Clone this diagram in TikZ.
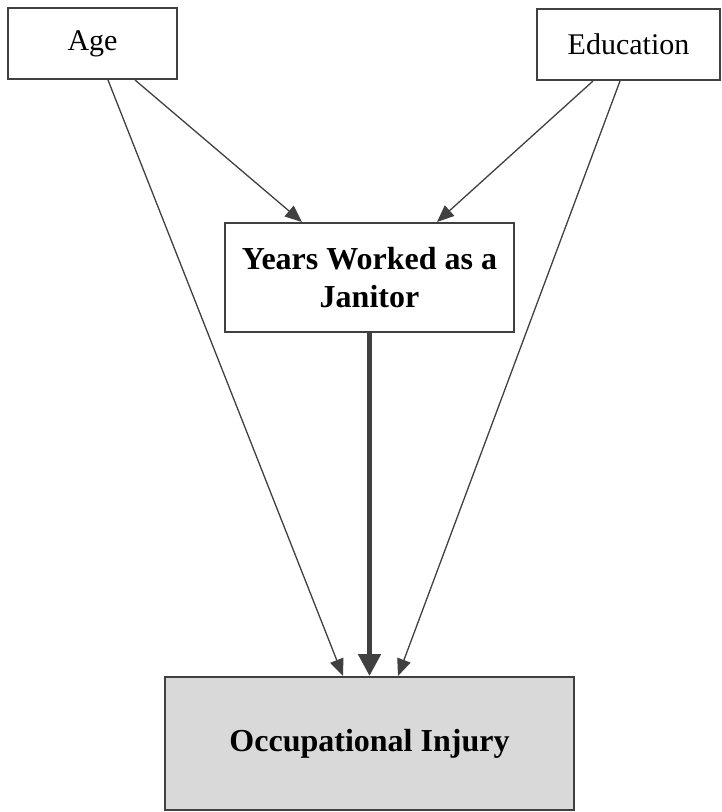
\documentclass[tikz,border=0pt]{standalone}
\usepackage{fontspec}
\setmainfont{Liberation Serif}
\usetikzlibrary{arrows.meta}
\definecolor{ink}{HTML}{404040}
\definecolor{boxfill}{HTML}{D9D9D9}
\tikzset{
  box/.style={draw=ink, line width=2pt, fill=white, inner sep=0pt, align=center},
  lbl/.style={font=\fontsize{30}{36}\selectfont},
  blbl/.style={font=\fontsize{32}{38}\selectfont\bfseries},
  thin/.style={draw=ink, line width=1.3pt, -{Triangle[length=17pt,width=14pt]}},
  thick/.style={draw=ink, line width=5pt, -{Triangle[length=22pt,width=22pt]}},
}
\begin{document}
\begin{tikzpicture}[x=1pt,y=-1pt]
\useasboundingbox (0,0) rectangle (722,812);
\node[box, lbl, minimum width=169pt, minimum height=71pt] (age) at (92.5,43.5) {\raisebox{-3pt}{Age}};
\node[box, lbl, minimum width=183pt, minimum height=71pt] (edu) at (628.5,44.5) {Education};
\node[box, blbl, minimum width=289pt, minimum height=109pt] (yrs) at (369.5,277.5) {Years Worked as a\\Janitor};
\node[box, blbl, fill=boxfill, minimum width=409pt, minimum height=133pt] (occ) at (369.5,743.5) {Occupational Injury};
\draw[thin] ([xshift=42.5pt]age.south) -- ([xshift=-67.5pt]yrs.north);
\draw[thin] ([xshift=15.5pt]age.south) -- ([xshift=-26.5pt]occ.north);
\draw[thin] ([xshift=-35.5pt]edu.south) -- ([xshift=67.5pt]yrs.north);
\draw[thin] ([xshift=-8.5pt]edu.south) -- ([xshift=28.5pt]occ.north);
\draw[thick] (yrs.south) -- (occ.north);
\end{tikzpicture}
\end{document}
